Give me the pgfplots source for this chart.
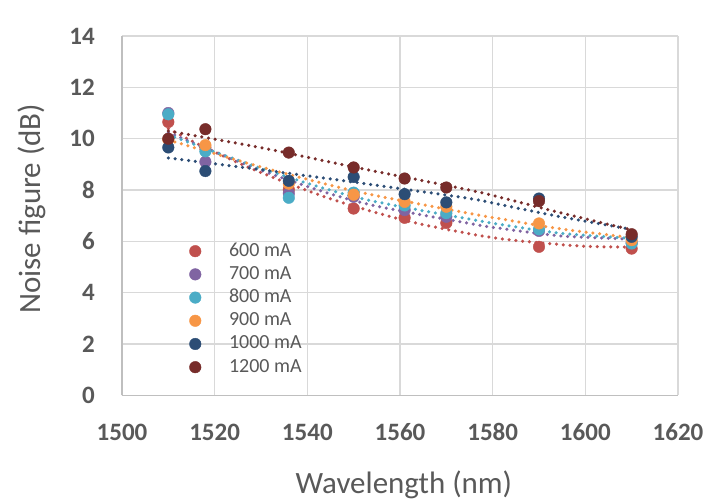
\documentclass[border=0pt]{standalone}
\usepackage{pgfplots}
\pgfplotsset{compat=1.18}
\usepackage{fontspec}
\setmainfont{Carlito}
\definecolor{cA}{HTML}{C0504D}
\definecolor{cB}{HTML}{8064A2}
\definecolor{cC}{HTML}{4BACC6}
\definecolor{cD}{HTML}{F79646}
\definecolor{cE}{HTML}{2C4D75}
\definecolor{cF}{HTML}{772C2A}
\definecolor{txt}{HTML}{595959}
\definecolor{gridc}{HTML}{D9D9D9}
\definecolor{axc}{HTML}{BFBFBF}
\pgfplotsset{trend/.style={line width=3.5pt, line cap=round, dash pattern=on 0pt off 6.8pt, smooth, no marks}}
\begin{document}
\begin{tikzpicture}
\path[use as bounding box] (-122pt,-106.5pt) rectangle (588pt,395.5pt);
\begin{axis}[
  at={(0pt,0pt)}, anchor=south west,
  scale only axis, width=556pt, height=359.5pt,
  xmin=1500, xmax=1620, ymin=0, ymax=14,
  xtick={1500,1520,...,1620}, ytick={0,2,...,14},
  scaled ticks=false,
  /pgf/number format/1000 sep={},
  /pgf/number format/assume math mode=true,
  grid=major, major grid style={gridc, line width=1.3pt},
  axis lines*=left, axis line style={axc, line width=1.3pt},
  major tick length=0pt,
  xticklabel style={font=\bfseries\fontsize{25}{30}\selectfont, text=txt, anchor=north, inner sep=0pt, yshift=-28pt},
  yticklabel style={font=\bfseries\fontsize{25}{30}\selectfont, text=txt, anchor=east, inner sep=0pt, xshift=-27pt},
  xlabel={Wavelength (nm)},
  ylabel={Noise figure (dB)},
  xlabel style={at={(axis description cs:0.507,-0.274)}, anchor=base, font=\fontsize{31}{36}\selectfont, text=txt},
  ylabel style={at={(axis description cs:-0.163,0.519)}, anchor=center, font=\fontsize{31}{36}\selectfont, text=txt},
  legend style={at={(rel axis cs:0.121,0.427)}, anchor=north west, draw=none, fill=none,
    inner sep=0pt, font=\fontsize{20}{24}\selectfont, text=txt, row sep=5.2pt, column sep=28pt,
    nodes={inner sep=0pt, text height=14pt, text depth=4pt}},
  legend cell align=left,
  legend image code/.code={\draw[#1] plot coordinates {(5.8pt,0pt)};},
  every axis plot/.append style={mark size=5.8pt},
]
% markers
\addplot[only marks, mark=*, cA, mark options={draw=cA, fill=cA}] coordinates {
 (1510,10.65) (1518,9.65) (1536,8.02) (1550,7.28) (1561,6.92) (1570,6.72) (1590,5.79) (1610,5.72)};
\addlegendentry{600 mA}
\addplot[only marks, mark=*, cB, mark options={draw=cB, fill=cB}] coordinates {
 (1510,11.0) (1518,9.1) (1536,7.87) (1550,7.74) (1561,7.22) (1570,6.96) (1590,6.41) (1610,5.95)};
\addlegendentry{700 mA}
\addplot[only marks, mark=*, cC, mark options={draw=cC, fill=cC}] coordinates {
 (1510,10.95) (1518,9.51) (1536,7.70) (1550,7.90) (1561,7.40) (1570,7.10) (1590,6.47) (1610,5.92)};
\addlegendentry{800 mA}
\addplot[only marks, mark=*, cD, mark options={draw=cD, fill=cD}] coordinates {
 (1510,9.97) (1518,9.75) (1536,8.25) (1550,7.82) (1561,7.54) (1570,7.35) (1590,6.70) (1610,6.05)};
\addlegendentry{900 mA}
\addplot[only marks, mark=*, cE, mark options={draw=cE, fill=cE}] coordinates {
 (1510,9.66) (1518,8.74) (1536,8.36) (1550,8.51) (1561,7.84) (1570,7.52) (1590,7.67) (1610,6.18)};
\addlegendentry{1000 mA}
\addplot[only marks, mark=*, cF, mark options={draw=cF, fill=cF}] coordinates {
 (1510,10.00) (1518,10.37) (1536,9.46) (1550,8.88) (1561,8.45) (1570,8.10) (1590,7.57) (1610,6.28)};
\addlegendentry{1200 mA}
% trendlines
\addplot[trend, cA, forget plot] coordinates {(1510,10.39) (1518,9.65) (1530,8.68) (1545,7.66) (1561,6.82) (1575,6.30) (1582,6.10) (1590,5.95) (1600,5.81) (1610,5.78)};
\addplot[trend, cB, forget plot] coordinates {(1510,10.25) (1530,8.77) (1551,7.54) (1575,6.70) (1582,6.50) (1595,6.21) (1610,6.09)};
\addplot[trend, cC, forget plot] coordinates {(1510,10.15) (1530,8.85) (1551,7.70) (1575,6.87) (1582,6.65) (1595,6.31) (1610,6.12)};
\addplot[trend, cD, forget plot] coordinates {(1510,9.95) (1530,8.90) (1551,7.93) (1575,7.09) (1582,6.87) (1595,6.48) (1610,6.15)};
\addplot[trend, cE, forget plot] coordinates {(1510,9.25) (1531,8.77) (1552,8.26) (1575,7.67) (1582,7.42) (1595,6.95) (1610,6.47)};
\addplot[trend, cF, forget plot] coordinates {(1510,10.30) (1530,9.65) (1550,8.90) (1575,8.00) (1582,7.70) (1595,7.10) (1610,6.45)};
\end{axis}
\end{tikzpicture}
\end{document}
